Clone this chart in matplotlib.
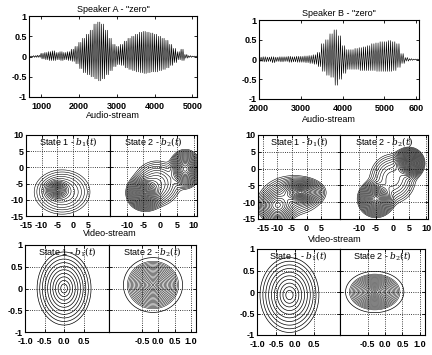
import numpy as np
import matplotlib
matplotlib.use("Agg")
import matplotlib.pyplot as plt

plt.rcParams["font.family"] = ["Liberation Sans", "DejaVu Sans"]
plt.rcParams["mathtext.fontset"] = "dejavuserif"
plt.rcParams["axes.unicode_minus"] = False
plt.rcParams["font.size"] = 6.5

# audio waveforms: peak (up) and trough (lo) per 100-sample bin
a_start = 700
a_up = [0.01, 0.02, 0.03, 0.08, 0.10, 0.12, 0.14, 0.10, 0.12, 0.10,
        0.12, 0.18, 0.25, 0.35, 0.45, 0.55, 0.65, 0.80, 0.85, 0.80,
        0.65, 0.45, 0.30, 0.25, 0.30, 0.38, 0.45, 0.50, 0.55, 0.60,
        0.62, 0.60, 0.58, 0.55, 0.50, 0.45, 0.40, 0.30, 0.20, 0.12,
        0.18, 0.05, 0.02, 0.01, 0.01]
a_lo = [-0.01, -0.02, -0.02, -0.06, -0.08, -0.10, -0.10, -0.08, -0.10, -0.08,
        -0.10, -0.12, -0.18, -0.30, -0.40, -0.45, -0.50, -0.55, -0.60, -0.55,
        -0.45, -0.35, -0.25, -0.20, -0.22, -0.28, -0.32, -0.35, -0.38, -0.40,
        -0.42, -0.40, -0.38, -0.38, -0.35, -0.32, -0.28, -0.22, -0.15, -0.08,
        -0.10, -0.04, -0.02, -0.01, -0.01]
b_start = 2000
b_up = [0.06, 0.07, 0.06, 0.07, 0.06, 0.07, 0.07, 0.08, 0.07, 0.08,
        0.08, 0.09, 0.10, 0.12, 0.18, 0.40, 0.50, 0.65, 0.75, 0.60,
        0.35, 0.25, 0.25, 0.28, 0.30, 0.32, 0.35, 0.40, 0.42, 0.45,
        0.45, 0.48, 0.45, 0.40, 0.15, 0.05, 0.02, 0.01, 0.01]
b_lo = [-0.05, -0.06, -0.05, -0.08, -0.05, -0.06, -0.05, -0.07, -0.06, -0.07,
        -0.07, -0.08, -0.10, -0.12, -0.18, -0.30, -0.40, -0.45, -0.65, -0.50,
        -0.35, -0.25, -0.25, -0.25, -0.28, -0.28, -0.28, -0.28, -0.30, -0.30,
        -0.30, -0.30, -0.28, -0.20, -0.10, -0.04, -0.02, -0.01, -0.01]

# gaussian state densities: means, std devs, weights
vA1_mu = [(-5, -7), (-3.4, -7.6)]
vA1_sd = [(1.6, 1.2), (3.8, 2.9)]
vA1_w = [0.45, 0.55]
vA2_mu = [(-4.6, -7.9), (7.5, -0.5), (-1, -5)]
vA2_sd = [(1.9, 1.9), (1.7, 2.1), (3.0, 3.0)]
vA2_w = [0.45, 0.35, 0.2]
vB1_mu = [(-10, -11), (-2, -7), (-5, -8)]
vB1_sd = [(2.5, 2.0), (2.8, 1.4), (4.5, 2.6)]
vB1_w = [0.35, 0.45, 0.2]
vB2_mu = [(-5, -9), (4.9, 1.6), (0, -3)]
vB2_sd = [(1.9, 1.9), (1.6, 1.6), (3.0, 3.2)]
vB2_w = [0.45, 0.35, 0.2]
aA1_mu, aA1_sd = [(0.0, 0.0)], [(0.23, 0.28)]
aA2_mu, aA2_sd = [(-0.16, 0.08)], [(0.30, 0.21)]
aB1_mu, aB1_sd = [(-0.14, -0.07)], [(0.26, 0.29)]
aB2_mu, aB2_sd = [(-0.3, 0.0)], [(0.28, 0.16)]


def px(l, b, r, t):
    return [l / 432, 1 - b / 355, (r - l) / 432, (b - t) / 355]


def style(ax, xlim, ylim, xt, xl, yt, yl=None, grid=True):
    ax.set_xlim(xlim)
    ax.set_ylim(ylim)
    ax.set_xticks(xt)
    ax.set_xticklabels(xl, fontweight="bold")
    ax.set_yticks(yt)
    if yl is None:
        ax.set_yticklabels([])
    else:
        ax.set_yticklabels(yl, fontweight="bold")
    if grid:
        ax.grid(True, ls=":", color="k", lw=0.6)
    ax.tick_params(direction="in", length=2, width=0.6, pad=1.5, labelsize=6.5,
                   top=True, right=True)
    ax.tick_params(axis="x", pad=3.6)
    for s in ax.spines.values():
        s.set_linewidth(0.8)


def wave(ax, start, up, lo):
    # each bin drawn as two oscillations between its peak and trough
    x = []
    y = []
    for i in range(len(up)):
        x0 = start + 100 * i
        x += [x0, x0 + 25, x0 + 50, x0 + 75]
        y += [up[i], lo[i], up[i], lo[i]]
    ax.plot(x, y, color="k", lw=0.45)


def density(ax, mu, sd, w, rmin, rmax, n, lw=0.45):
    x0, x1 = ax.get_xlim()
    y0, y1 = ax.get_ylim()
    X, Y = np.meshgrid(np.linspace(x0, x1, 300), np.linspace(y0, y1, 300))
    Z = np.zeros_like(X)
    for (mx, my), (sx, sy), wi in zip(mu, sd, w):
        Z += wi / (sx * sy) * np.exp(-0.5 * (((X - mx) / sx) ** 2 + ((Y - my) / sy) ** 2))
    Z /= Z.max()
    levels = np.exp(-0.5 * np.linspace(rmax, rmin, n) ** 2)
    ax.contour(X, Y, Z, levels=levels, colors="k", linewidths=lw)


def state(ax, i):
    ax.text(0.5, 0.92, "State %d - $b_%d(t)$" % (i, i), transform=ax.transAxes,
            ha="center", va="center", fontsize=6.5)


fig = plt.figure(figsize=(4.32, 3.55), dpi=100)

wy = [-1, -0.5, 0, 0.5, 1]
wyl = ["-1", "-0.5", "0", "0.5", "1"]

# top row: audio
ax = fig.add_axes(px(29, 97, 197, 16))
wave(ax, a_start, a_up, a_lo)
style(ax, (680, 5120), (-1, 1), [1000, 2000, 3000, 4000, 5000],
      ["1000", "2000", "3000", "4000", "5000"], wy, wyl, grid=False)
ax.set_title('Speaker A - "zero"', fontsize=6.5, pad=3)
fig.text(113 / 432, 1 - 115 / 355, "Audio-stream", ha="center", va="center")

ax = fig.add_axes(px(259, 99, 419, 20))
wave(ax, b_start, b_up, b_lo)
style(ax, (2000, 5830), (-1, 1), [2000, 3000, 4000, 5000, 5760],
      ["2000", "3000", "4000", "5000", "600"], wy, wyl, grid=False)
ax.set_title('Speaker B - "zero"', fontsize=6.5, pad=3)
fig.text(329 / 432, 1 - 119 / 355, "Audio-stream", ha="center", va="center")

# middle row: video
vy = [-15, -10, -5, 0, 5, 10]
vyl = ["-15", "-10", "-5", "0", "5", "10"]

ax = fig.add_axes(px(26, 216, 110, 135))
style(ax, (-15, 12), (-15, 10), [-15, -10, -5, 0, 5], ["-15", "-10", "-5", "0", "5"], vy, vyl)
density(ax, vA1_mu, vA1_sd, vA1_w, 0.2, 3.0, 17, 0.4)
state(ax, 1)
ax = fig.add_axes(px(110, 216, 197, 135))
style(ax, (-15, 11), (-15, 10), [-10, -5, 0, 5, 10], ["-10", "-5", "0", "5", "10"], vy)
density(ax, vA2_mu, vA2_sd, vA2_w, 0.15, 3.0, 22, 0.4)
state(ax, 2)
fig.text(110 / 432, 1 - 234 / 355, "Video-stream", ha="center", va="center")

ax = fig.add_axes(px(258, 219, 340, 135))
style(ax, (-16.7, 11.5), (-15, 10), [-15, -10, -5, 0, 5], ["-15", "-10", "-5", "0", "5"], vy, vyl)
density(ax, vB1_mu, vB1_sd, vB1_w, 0.2, 3.0, 20, 0.4)
state(ax, 1)
ax = fig.add_axes(px(340, 219, 428, 135))
style(ax, (-15.8, 10.6), (-15, 10), [-10, -5, 0, 5, 10], ["-10", "-5", "0", "5", "10"], vy)
density(ax, vB2_mu, vB2_sd, vB2_w, 0.15, 3.0, 22, 0.4)
state(ax, 2)
fig.text(335 / 432, 1 - 239 / 355, "Video-stream", ha="center", va="center")

# bottom row: audio state densities
ax = fig.add_axes(px(25, 332, 109, 245))
style(ax, (-1.0, 1.15), (-1, 1), [-1.0, -0.5, 0.0, 0.5], ["-1.0", "-0.5", "0.0", "0.5"], wy, wyl)
density(ax, aA1_mu, aA1_sd, [1], 0.37, 3.0, 10, 0.5)
state(ax, 1)
ax = fig.add_axes(px(109, 332, 196, 245))
style(ax, (-1.5, 1.15), (-1, 1), [-0.5, 0.0, 0.5, 1.0], ["-0.5", "0.0", "0.5", "1.0"], wy)
density(ax, aA2_mu, aA2_sd, [1], 0.1, 2.6, 20, 0.35)
density(ax, aA2_mu, aA2_sd, [1], 3.0, 3.0, 1, 0.5)
state(ax, 2)

ax = fig.add_axes(px(257, 335, 340, 249))
style(ax, (-1.0, 1.2), (-1, 1), [-1.0, -0.5, 0.0, 0.5], ["-1.0", "-0.5", "0.0", "0.5"], wy, wyl)
density(ax, aB1_mu, aB1_sd, [1], 0.37, 3.0, 10, 0.5)
state(ax, 1)
ax = fig.add_axes(px(340, 335, 425, 249))
style(ax, (-1.3, 1.15), (-1, 1), [-0.5, 0.0, 0.5, 1.0], ["-0.5", "0.0", "0.5", "1.0"], wy)
density(ax, aB2_mu, aB2_sd, [1], 0.1, 2.6, 20, 0.35)
density(ax, aB2_mu, aB2_sd, [1], 3.0, 3.0, 1, 0.5)
state(ax, 2)

fig.savefig("out.png", dpi=100)
